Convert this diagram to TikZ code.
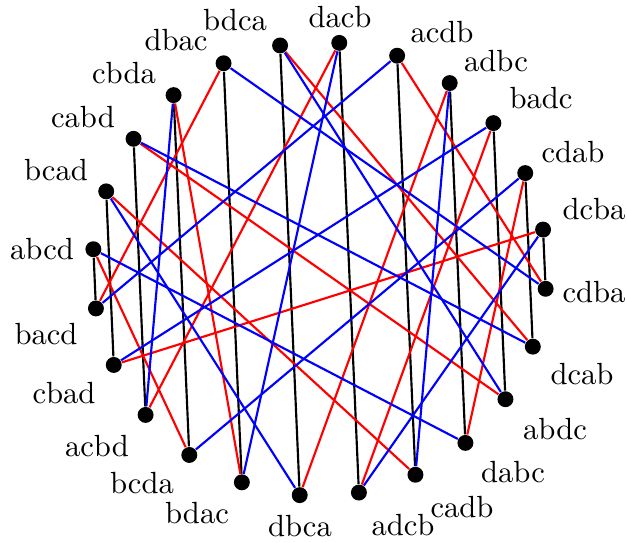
\documentclass[tikz,border=0pt]{standalone}
\usetikzlibrary{backgrounds}
\begin{document}
\begin{tikzpicture}[x=0.3264pt,y=-0.3264pt,
  dot/.style={circle,fill=black,inner sep=0pt,minimum size=5.2pt},
  lbl/.style={inner sep=0pt,anchor=center},
  blk/.style={black,line width=0.7pt},
  rd/.style={red,line width=0.7pt},
  bl/.style={blue,line width=0.7pt}]
\useasboundingbox (0,0) rectangle (627,542);
\foreach \n/\a/\lx/\ly in {
  abcd/175/42/249, bacd/190/46/334, cbad/205/64/393, acbd/220/97/446,
  bcda/235/142/483, bdac/250/197/513, dbca/265/300/526, adcb/280/403/525,
  cadb/295/462/507, dabc/310/513/472, abdc/325/555/429, dcab/340/582/374,
  cdba/355/594/292, dcba/10/594/209, cdab/25/573/152, badc/40/541/98,
  adbc/55/496/61, acdb/70/442/32, dacb/85/340/17, bdca/100/235/20,
  dbac/115/176/40, cbda/130/124/73, cabd/145/83/117, bcad/160/56/170}{
  \node[dot] (\n) at ({319.5+227*cos(\a)},{269-227*sin(\a)}) {};
  \node[lbl] (l-\n) at (\lx,\ly) {\n};
}
\begin{pgfonlayer}{background}
\foreach \p/\q in {abcd/bacd, bcad/cbad, cabd/acbd, cbda/bcda, dbac/bdac, bdca/dbca,
  dacb/adcb, acdb/cadb, adbc/dabc, badc/abdc, cdab/dcab, dcba/cdba}
  \draw[blk] (\p) -- (\q);
\foreach \p/\q in {abcd/bcda, cdab/dabc, acdb/cdba, dbac/bacd, cbad/dcba, badc/adcb,
  bcad/cadb, adbc/dbca, cabd/abdc, bdca/dcab, acbd/dacb, cbda/bdac}
  \draw[rd] (\p) -- (\q);
\foreach \p/\q in {bcda/cdab, dabc/abcd, bacd/acdb, cdba/dbac, cbad/badc, adcb/dcba,
  bcad/dbca, cadb/adbc, abdc/bdca, dcab/cabd, acbd/cbda, bdac/dacb}
  \draw[bl] (\p) -- (\q);
\end{pgfonlayer}
\end{tikzpicture}
\end{document}
